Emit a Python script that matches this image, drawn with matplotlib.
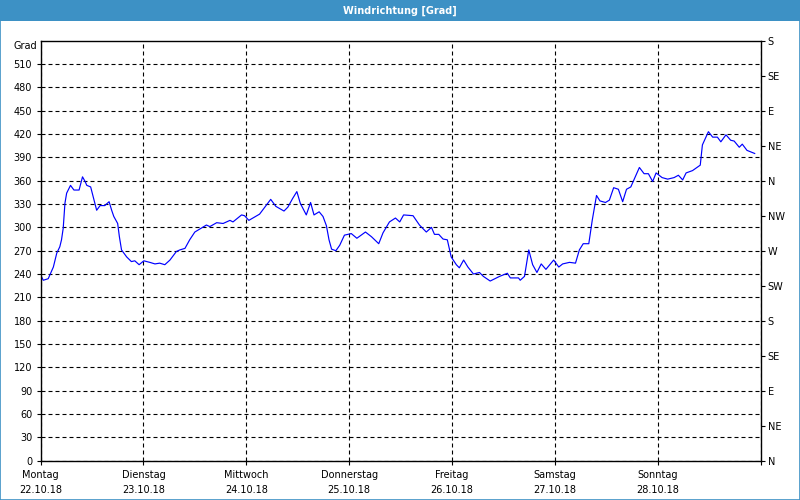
import matplotlib
matplotlib.use('Agg')
import matplotlib.pyplot as plt
from matplotlib.patches import Rectangle

# hours since Monday 22.10.18 00:00
hours = [0.0, 0.65, 1.8, 3.0, 3.8, 4.5, 4.9, 5.3, 5.7, 6.1, 7.0, 7.8, 9.0, 9.8, 10.4, 10.8,
         11.7, 12.3, 13.1, 13.9, 15.0, 16.0, 16.6, 17.1, 18.0, 18.4, 18.9, 20.1, 21.2, 22.0,
         23.0, 24.1, 25.5, 26.7, 27.8, 29.0, 30.2, 31.7, 32.5, 33.7, 34.8, 36.0, 37.2, 38.7,
         39.5, 41.1, 42.6, 44.2, 44.9, 46.9, 47.6, 48.6, 51.1, 53.7, 54.9, 56.8, 57.7, 58.8,
         59.8, 60.6, 62.0, 63.0, 63.8, 65.0, 65.9, 66.7, 67.3, 67.9, 68.9, 69.8, 70.9, 72.5,
         73.8, 75.8, 77.2, 78.9, 79.9, 81.4, 82.8, 83.8, 84.7, 86.9, 88.4, 90.0, 91.2, 91.9,
         92.9, 93.9, 94.9, 95.8, 97.0, 97.7, 98.7, 99.7, 101.0, 102.4, 103.3, 104.9, 107.1,
         108.9, 109.6, 111.5, 111.9, 112.9, 113.9, 114.8, 115.8, 116.8, 117.9, 119.7, 120.9,
         121.8, 123.4, 124.8, 125.7, 126.6, 127.9, 128.7, 129.7, 130.5, 131.8, 132.7, 133.7,
         134.8, 135.8, 136.7, 137.7, 139.7, 140.8, 141.8, 142.8, 143.6, 145.0, 146.3, 147.8,
         148.8, 149.8, 150.6, 152.1, 153.9, 154.4, 155.8, 156.8, 157.9, 158.7, 159.9, 161.0,
         161.8, 163.0, 163.7, 164.8, 166.6]
degrees = [239, 232, 234, 249, 267, 275, 284, 299, 331, 344, 354, 348, 348, 365, 359, 354,
           352, 339, 322, 328, 328, 333, 322, 314, 305, 288, 271, 262, 256, 257,
           252, 257, 255, 253, 254, 252, 258, 269, 271, 273, 284, 294, 298, 303,
           301, 306, 305, 309, 307, 316, 315, 309, 317, 336, 327, 321, 326, 337,
           346, 331, 316, 332, 316, 320, 314, 302, 284, 272, 270, 277, 290, 292,
           286, 294, 288, 279, 293, 307, 312, 307, 316, 315, 303, 294, 300, 291,
           291, 285, 284, 262, 252, 248, 258, 249, 240, 242, 237, 231, 237,
           241, 235, 235, 232, 237, 271, 252, 242, 253, 246, 258, 249,
           253, 255, 254, 271, 279, 279, 309, 341, 334, 332, 335, 351,
           349, 333, 349, 352, 377, 369, 369, 359, 370, 364, 362, 364,
           367, 361, 370, 373, 380, 406, 423, 416, 416, 410, 419, 412,
           411, 403, 407, 399, 395]

day_names = ['Montag', 'Dienstag', 'Mittwoch', 'Donnerstag', 'Freitag', 'Samstag', 'Sonntag']
day_dates = ['22.10.18', '23.10.18', '24.10.18', '25.10.18', '26.10.18', '27.10.18', '28.10.18']
y_ticks = list(range(0, 540, 30))
compass_ticks = list(range(0, 541, 45))
compass_labels = ['N', 'NE', 'E', 'SE', 'S', 'SW', 'W', 'NW', 'N', 'NE', 'E', 'SE', 'S']

W, H = 800, 500
fig = plt.figure(figsize=(8, 5), dpi=100)
fig.patch.set_facecolor('white')

# title bar
bar_h = 21
fig.patches.append(Rectangle((0, 1 - bar_h / H), 1, bar_h / H, transform=fig.transFigure,
                             facecolor='#3d91c5', edgecolor='none', zorder=0))
fig.text(0.5, 1 - 10.5 / H, 'Windrichtung [Grad]', color='white', fontsize=7,
         fontweight='bold', ha='center', va='center')
# outer border
fig.patches.append(Rectangle((0.0006, 0.001), 0.9988, 0.998, transform=fig.transFigure,
                             facecolor='none', edgecolor='#3d91c5', linewidth=1.2, zorder=5))

left, right, top, bottom = 40.5, 760.7, 40.7, 460.7
ax = fig.add_axes([left / W, 1 - bottom / H, (right - left) / W, (bottom - top) / H])
ax.plot(hours, degrees, color='#0000ff', linewidth=0.85)

ax.set_xlim(0, 168)
ax.set_ylim(0, 540)
ax.set_yticks(y_ticks)
ax.set_yticklabels([str(v) for v in y_ticks])
xt = [24 * i for i in range(8)]
ax.set_xticks(xt)
ax.set_xticklabels([f'{n}\n{d}' for n, d in zip(day_names, day_dates)] + [''],
                   linespacing=1.55)
ax.tick_params(axis='both', labelsize=7, length=3, width=0.8, colors='black', pad=3)
ax.tick_params(axis='x', pad=4)

for s in ax.spines.values():
    s.set_color('black')
    s.set_linewidth(1.0)

ax.grid(True, color='black', linestyle=(0, (3.6, 2.7)), linewidth=0.8)
ax.set_axisbelow(True)

ax.text(-0.005, 540 - 5 / 0.7778, 'Grad', transform=ax.get_yaxis_transform(),
        ha='right', va='center', fontsize=7)

ax2 = ax.twinx()
ax2.set_ylim(0, 540)
ax2.set_yticks(compass_ticks)
ax2.set_yticklabels(compass_labels)
ax2.tick_params(axis='y', labelsize=7, length=3, width=0.8, colors='black', pad=2)
for s in ax2.spines.values():
    s.set_visible(False)

fig.savefig('out.png', dpi=100)
